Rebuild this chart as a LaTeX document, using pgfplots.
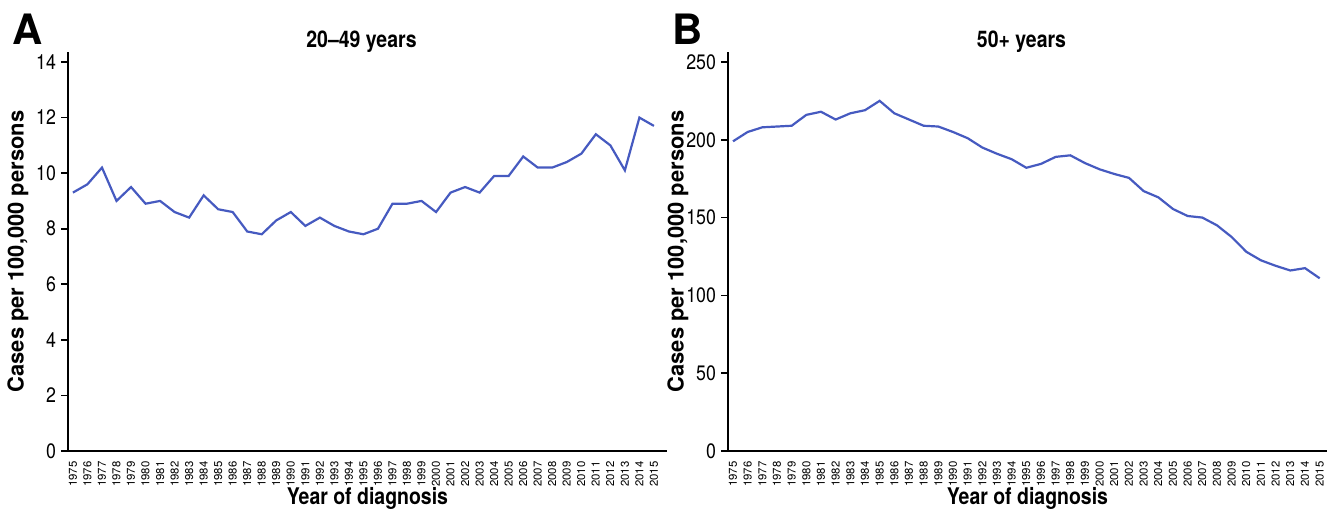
\documentclass[border=0pt]{standalone}
\usepackage{fontspec}
\setmainfont{TeX Gyre Heros}
\newfontfamily\cond[FakeStretch=0.85]{TeX Gyre Heros}
\usepackage{pgfplots}
\usepackage{pgfplotstable}
\pgfplotsset{compat=1.18}
\definecolor{lineblue}{RGB}{70,90,192}

\pgfplotstableread{
year a b
1975 9.3 199
1976 9.6 205
1977 10.2 208
1978 9.0 208.5
1979 9.5 209
1980 8.9 216
1981 9.0 218
1982 8.6 213
1983 8.4 217
1984 9.2 219
1985 8.7 225
1986 8.6 217
1987 7.9 213
1988 7.8 209
1989 8.3 208.5
1990 8.6 205
1991 8.1 201
1992 8.4 195
1993 8.1 191
1994 7.9 187.5
1995 7.8 182
1996 8.0 184.5
1997 8.9 189
1998 8.9 190
1999 9.0 185
2000 8.6 181
2001 9.3 178
2002 9.5 175.5
2003 9.3 167
2004 9.9 163
2005 9.9 155.5
2006 10.6 151
2007 10.2 150
2008 10.2 145
2009 10.4 137.5
2010 10.7 128
2011 11.4 122.5
2012 11.0 119
2013 10.1 116
2014 12.0 117.5
2015 11.7 111
}\data

\pgfplotsset{panel/.style={
  scale only axis, width=299.5bp, height=199.5bp,
  clip=false,
  axis x line*=bottom, axis y line*=left,
  axis line style={-, line width=0.8bp},
  xmin=1974.66, xmax=2015.9, ymin=0,
  xtick={1975,...,2015},
  x tick style={draw=none},
  y tick style={black, line width=0.8bp},
  tick align=outside, major tick length=3.5bp,
  /pgf/number format/1000 sep={},
  /pgf/number format/assume math mode=true,
  xticklabel style={rotate=90, anchor=east, xshift=0bp, inner sep=1.5bp, font=\fontsize{5.7}{6}\selectfont},
  yticklabel style={font=\cond\fontsize{10.5}{11}\selectfont, xshift=1bp},
  xlabel={Year of diagnosis},
  xlabel style={font=\cond\bfseries\fontsize{11.5}{12}\selectfont, at={(axis description cs:0.5,-0.1345)}, anchor=base, inner sep=0pt},
  ylabel={Cases per 100,000 persons},
  ylabel style={font=\bfseries\fontsize{11}{12}\selectfont, at={(axis description cs:-0.0835,0.5)}, anchor=center},
}}

\begin{document}
\begin{tikzpicture}
\useasboundingbox (-34bp,-29.5bp) rectangle (630bp,225.5bp);
\begin{axis}[panel, ymax=14.36, ytick={0,2,...,14}]
\addplot[lineblue, line width=1.1bp] table[x=year, y=a] {\data};
\node[font=\cond\bfseries\fontsize{11.5}{12}\selectfont] at (rel axis cs:0.49,1.025) {20\textendash 49 years};
\end{axis}
\node[font=\bfseries\fontsize{21}{21}\selectfont] at (-20bp,211bp) {A};
\begin{axis}[panel, xshift=330bp, xmax=2015.5, ymax=256.4, ytick={0,50,...,250}]
\addplot[lineblue, line width=1.1bp] table[x=year, y=b] {\data};
\node[font=\cond\bfseries\fontsize{11.5}{12}\selectfont] at (rel axis cs:0.49,1.025) {50+ years};
\end{axis}
\node[font=\bfseries\fontsize{21}{21}\selectfont] at (310bp,211bp) {B};
\end{tikzpicture}
\end{document}
